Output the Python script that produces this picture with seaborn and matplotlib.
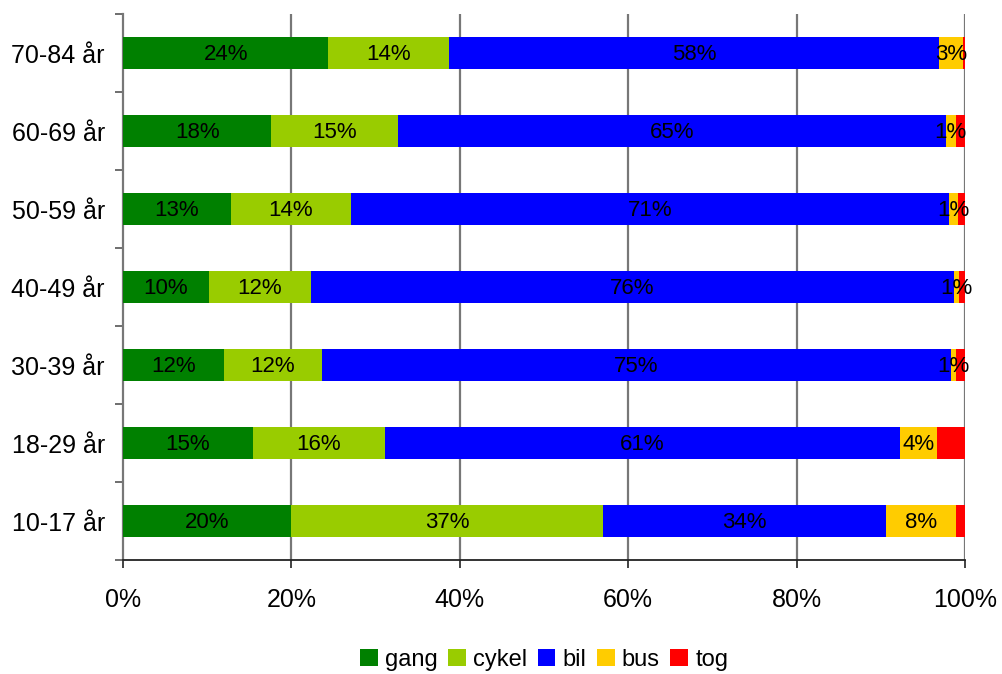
import matplotlib
matplotlib.use("Agg")
import matplotlib.pyplot as plt
from matplotlib.patches import Patch
from matplotlib.ticker import FixedLocator
import numpy as np
import pandas as pd
import seaborn as sns

# Age groups (top to bottom) and share of trips per transport mode, in percent
age_groups = ["70-84 år", "60-69 år", "50-59 år", "40-49 år", "30-39 år", "18-29 år", "10-17 år"]
gang = [24.4, 17.6, 12.8, 10.2, 12.0, 15.4, 20.0]
cykel = [14.3, 15.1, 14.3, 12.1, 11.6, 15.7, 37.0]
bil = [58.2, 65.0, 71.0, 76.4, 74.7, 61.2, 33.6]
bus = [2.9, 1.2, 1.1, 0.6, 0.6, 4.4, 8.3]
tog = [0.2, 1.1, 0.8, 0.7, 1.1, 3.3, 1.1]

modes = ["gang", "cykel", "bil", "bus", "tog"]
colors = {"gang": "#008000", "cykel": "#99CC00", "bil": "#0000FF",
          "bus": "#FFCC00", "tog": "#FF0000"}
labelled = ["gang", "cykel", "bil", "bus"]

df = pd.DataFrame({"group": age_groups, "gang": gang, "cykel": cykel,
                   "bil": bil, "bus": bus, "tog": tog})
cum = df[modes].cumsum(axis=1)

sns.set_style("white")
plt.rcParams["font.family"] = ["Liberation Sans", "DejaVu Sans"]
plt.rcParams["text.color"] = "black"
plt.rcParams["xtick.labelcolor"] = "black"
plt.rcParams["ytick.labelcolor"] = "black"

fig = plt.figure(figsize=(10.02, 6.74), dpi=100)
ax = fig.add_axes([123 / 1002, 1 - 560 / 674, (965 - 123) / 1002, (560 - 14) / 674])

# Stacked bars: draw cumulative totals from the last mode backwards
for m in reversed(modes):
    sns.barplot(x=cum[m], y=df["group"], order=age_groups, orient="h",
                color=colors[m], width=0.42, saturation=1, ax=ax,
                edgecolor="none", linewidth=0, zorder=3)

# Value labels centred in each segment
for i, row in df.iterrows():
    for m in labelled:
        v = row[m]
        if round(v) < 1:
            continue
        ax.text(cum.loc[i, m] - v / 2, i + 0.02, f"{round(v):.0f}%", ha="center",
                va="center", fontsize=16, color="black", zorder=4)

ax.set_xlim(0, 100)
ax.set_ylim(6.5, -0.5)
ax.set_xlabel("")
ax.set_ylabel("")

ax.set_xticks(np.arange(0, 101, 20))
ax.set_xticklabels([f"{t}%" for t in range(0, 101, 20)], fontsize=18)
ax.tick_params(axis="x", direction="out", length=6, width=1.2, color="#222222",
               pad=14, bottom=True)

ax.set_yticks(range(len(age_groups)))
ax.set_yticklabels(age_groups, fontsize=18)
ax.yaxis.set_minor_locator(FixedLocator(np.arange(-0.5, len(age_groups), 1)))
ax.tick_params(axis="y", which="major", length=0, pad=13)
ax.tick_params(axis="y", which="minor", direction="out", length=6, width=1.2,
               color="#555555", left=True)

# Vertical gridlines at each 20 %
for t in range(20, 101, 20):
    ax.axvline(t, color="#777777", linewidth=1.6, zorder=1)

for side in ["top", "right"]:
    ax.spines[side].set_visible(False)
ax.spines["left"].set_color("#777777")
ax.spines["left"].set_linewidth(1.6)
ax.spines["bottom"].set_color("#222222")
ax.spines["bottom"].set_linewidth(1.3)

handles = [Patch(facecolor=colors[m], edgecolor="none", label=m) for m in modes]
fig.legend(handles=handles, loc="center", bbox_to_anchor=(0.543, 0.021),
           ncol=5, frameon=False, fontsize=17, handlelength=0.75,
           handleheight=0.75, handletextpad=0.3, columnspacing=0.45,
           borderaxespad=0)

fig.savefig("out.png", dpi=100)
